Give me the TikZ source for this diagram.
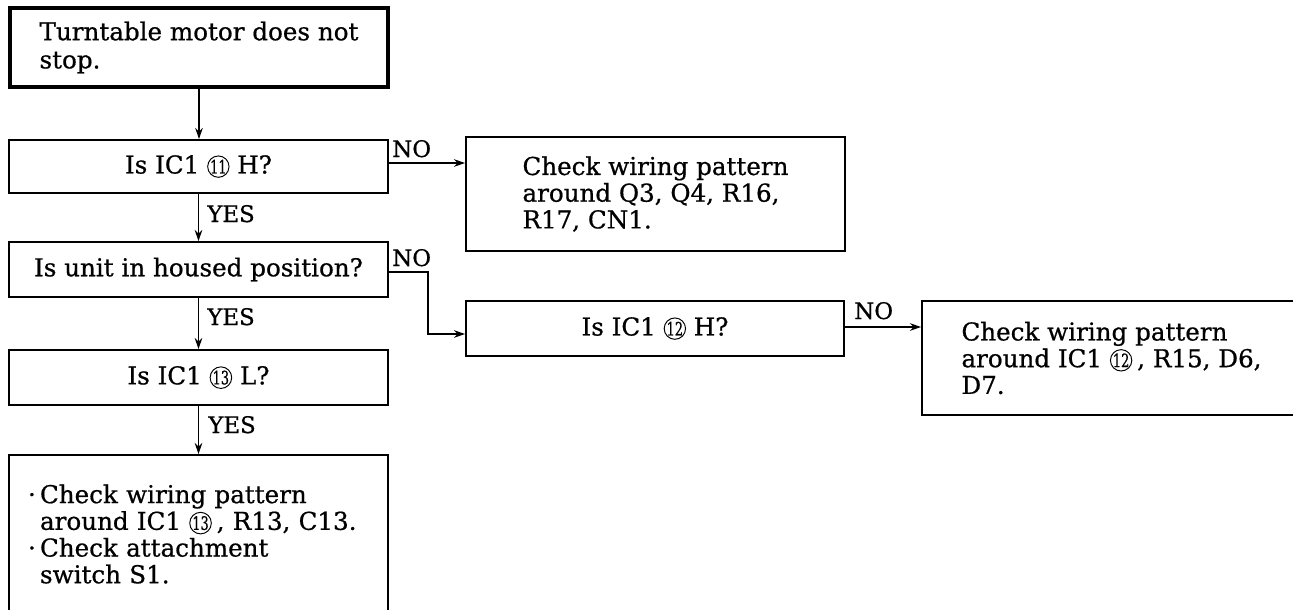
\documentclass[tikz,border=0pt]{standalone}
\usepackage{fontspec}
\usepackage{graphicx}
\setmainfont{DejaVu Serif}[FakeBold=0.7]
\usetikzlibrary{arrows.meta}
\newcommand\cnum[1]{\tikz[baseline=(cn.base)]\node(cn)[draw,circle,anchor=center,line width=0.55pt,inner sep=0pt,minimum size=0.41cm,text width={},font=\fontsize{10.5}{10.5}\selectfont]{\scalebox{0.7}[1]{#1}};}
\newcommand\bul{\makebox[0.24cm][l]{·}}
\tikzset{
  box/.style={draw,rectangle,line width=1.1pt,inner sep=0pt,font=\fontsize{14}{15.2}\selectfont},
  startbox/.style={box,line width=2.8pt,font=\fontsize{14}{16}\selectfont},
  lbl/.style={font=\fontsize{13}{13}\selectfont,inner sep=0pt},
  conn/.style={line width=1.1pt},
  arr/.style={conn,-{Stealth[length=0.22cm,width=0.15cm]}},
}
\begin{document}
\begin{tikzpicture}[x=0.02cm,y=-0.02cm]
\useasboundingbox (0,0) rectangle (1293,609);
% boxes
\node[startbox,minimum width=7.56cm,minimum height=1.58cm,align=left] (start) at (199,47.5) {Turntable motor does not\\stop.};
\node[box,minimum width=7.58cm,minimum height=1.06cm] (q1) at (198.5,166.5) {Is IC1 \cnum{11} H?};
\node[box,minimum width=7.58cm,minimum height=2.28cm,align=left] (c1) at (655.5,194) {Check wiring pattern\\around Q3, Q4, R16,\\R17, CN1.};
\node[box,minimum width=7.58cm,minimum height=1.1cm] (q2) at (198.5,269.5) {Is unit in housed position?};
\node[box,minimum width=7.56cm,minimum height=1.1cm] (q3) at (655,328.5) {Is IC1 \cnum{12} H?};
\node[box,minimum width=7.58cm,minimum height=2.28cm,align=left] (c3) at (1111.5,358) {Check wiring pattern\\around IC1 \cnum{12}\hspace{0.1cm}, R15, D6,\\D7.};
\node[box,minimum width=7.58cm,minimum height=1.1cm] (q4) at (198.5,377.5) {Is IC1 \cnum{13} L?};
\node[box,minimum width=7.58cm,minimum height=3.16cm,inner xsep=0.38cm,text width=6.82cm,align=left] (c4) at (198.5,534) {\bul Check wiring pattern\\\hspace*{0.24cm}around IC1 \cnum{13}\hspace{0.1cm}, R13, C13.\\\bul Check attachment\\\hspace*{0.24cm}switch S1.};
% connectors
\draw[arr] (start.south) -- (start.south |- q1.north);
\coordinate (n1) at (388,163);
\draw[arr] (q1.east |- n1) -- (c1.west |- n1);
\node[lbl,anchor=base west] (no1) at (392,157) {NO};
\draw[arr] (q1.south) -- (q2.north);
\node[lbl,anchor=base west] (yes1) at (207,222) {YES};
\coordinate (k1) at (428,272);
\coordinate (k2) at (428,334);
\draw[arr] (q2.east |- k1) -- (k1) -- (k2) -- (q3.west |- k2);
\node[lbl,anchor=base west] (no2) at (392,266) {NO};
\draw[arr] (q2.south) -- (q4.north);
\node[lbl,anchor=base west] (yes2) at (207,325) {YES};
\coordinate (n3) at (844,327);
\draw[arr] (q3.east |- n3) -- (c3.west |- n3);
\node[lbl,anchor=base west] (no3) at (854,319) {NO};
\draw[arr] (q4.south) -- (c4.north);
\node[lbl,anchor=base west] (yes3) at (208,433) {YES};
\end{tikzpicture}
\end{document}
